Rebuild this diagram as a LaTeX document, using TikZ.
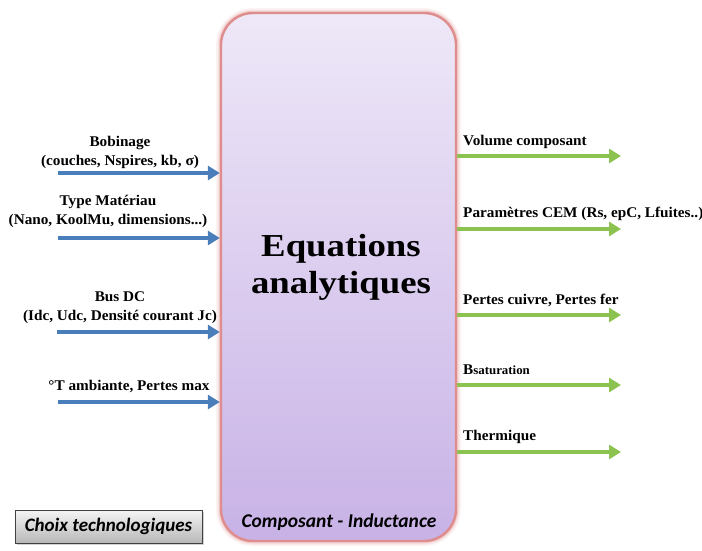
\documentclass[tikz,border=0pt]{standalone}
\usepackage{fontspec}
\setmainfont{Liberation Serif}
\newfontfamily\lblfont{Liberation Serif}[FakeStretch=1.03]
\newfontfamily\bigfont{Liberation Serif}[FakeStretch=1.15]
\newfontfamily\capfont{Carlito}
\usetikzlibrary{arrows.meta,shadows,calc}
\definecolor{inblue}{RGB}{74,126,187}
\definecolor{outgreen}{RGB}{140,195,80}
\definecolor{glowpink}{RGB}{222,140,140}
\definecolor{boxtop}{RGB}{238,232,248}
\definecolor{boxbot}{RGB}{200,178,230}
\tikzset{
  lbl/.style={font=\lblfont\bfseries\fontsize{14.8}{19}\selectfont, align=center, inner sep=0pt},
  rlbl/.style={font=\lblfont\bfseries\fontsize{14.8}{19}\selectfont, anchor=west, inner sep=0pt},
  inarrow/.style={draw=inblue, line width=3.6pt, -{Triangle[width=14pt,length=12pt]}},
  outarrow/.style={draw=outgreen, line width=3.6pt, -{Triangle[width=14pt,length=12pt]}},
  mainbox/.style={draw=glowpink, line width=2.4pt, rounded corners=32pt, top color=boxtop, bottom color=boxbot, minimum width=235pt, minimum height=528pt, inner sep=0pt},
  capbox/.style={draw=black!75, line width=0.9pt, top color=white!96!black, bottom color=black!28, minimum width=187pt, minimum height=33pt, inner sep=0pt, drop shadow={shadow xshift=1.5pt, shadow yshift=-1.5pt, opacity=0.35}, font=\capfont\bfseries\itshape\fontsize{19}{21}\selectfont},
  captext/.style={font=\capfont\bfseries\itshape\fontsize{19.5}{21}\selectfont, inner sep=0pt}
}
\begin{document}
\begin{tikzpicture}[x=1pt,y=-1pt]
\useasboundingbox (0,0) rectangle (702,550);
% glow around the box
\foreach \w/\o in {10/0.10,7/0.15,4.5/0.25}{
  \draw[draw=glowpink, line width=\w pt, opacity=\o, rounded corners=32pt] (221,13) rectangle (456,541);
}
\node[mainbox] (box) at (338.5,277) {};
\node[font=\bigfont\bfseries\fontsize{32}{37}\selectfont, align=center, inner sep=0pt] (eq) at (341,267) {Equations\\analytiques};
\node[captext] (comp) at (339,522) {Composant - Inductance};
\node[capbox] (choix) at (108.5,526.5) {Choix technologiques};

% inputs
\node[lbl] (t1) at (120,152.5) {Bobinage\\(couches, Nspires, kb, σ)};
\node[lbl] (t2) at (108,211) {Type Matériau\\(Nano, KoolMu, dimensions...)};
\node[lbl] (t3) at (120,307.5) {Bus DC\\(Idc, Udc, Densité courant Jc)};
\node[lbl] (t4) at (129,387) {°T ambiante, Pertes max};
\coordinate (a1) at (58,173);
\coordinate (a2) at (58,238);
\coordinate (a3) at (57,332);
\coordinate (a4) at (58,402);
\foreach \a in {a1,a2,a3,a4}{
  \draw[inarrow] (\a) -- (\a -| box.west);
}

% outputs
\node[rlbl] (r1) at (463,142) {Volume composant};
\node[rlbl] (r2) at (463,214) {Paramètres CEM (Rs, epC, Lfuites..)};
\node[rlbl] (r3) at (463,300) {Pertes cuivre, Pertes fer};
\node[rlbl] (r4) at (463,370) {B{\fontsize{12.5}{14}\selectfont saturation}};
\node[rlbl] (r5) at (463,437) {Thermique};
\coordinate (b1) at (621,156);
\coordinate (b2) at (621,229);
\coordinate (b3) at (621,315);
\coordinate (b4) at (621,385);
\coordinate (b5) at (621,452);
\foreach \b in {b1,b2,b3,b4,b5}{
  \draw[outarrow] (\b -| box.east) -- (\b);
}
\end{tikzpicture}
\end{document}
